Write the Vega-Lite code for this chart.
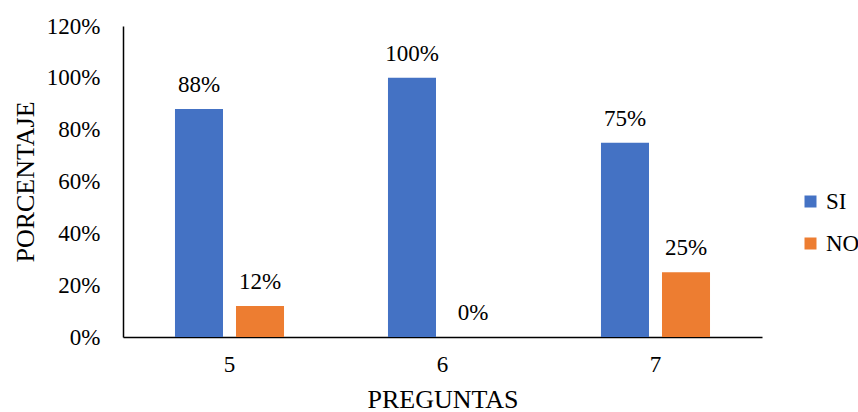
{
  "$schema": "https://vega.github.io/schema/vega-lite/v6.json",
  "width": 639,
  "height": 311,
  "autosize": {"type": "none"},
  "padding": {"left": 123, "top": 26, "right": 96, "bottom": 75},
  "background": "white",
  "config": {
    "view": {"stroke": null},
    "font": "Liberation Serif, serif",
    "text": {"font": "Liberation Serif, serif"},
    "axis": {"labelFont": "Liberation Serif, serif", "titleFont": "Liberation Serif, serif", "labelColor": "#000", "titleColor": "#000", "titleFontWeight": "normal", "grid": false},
    "legend": {"labelFont": "Liberation Serif, serif"}
  },
  "data": {
    "values": [
      {"pregunta": "5", "respuesta": "SI", "valor": 0.88},
      {"pregunta": "5", "respuesta": "NO", "valor": 0.12},
      {"pregunta": "6", "respuesta": "SI", "valor": 1.0},
      {"pregunta": "6", "respuesta": "NO", "valor": 0.0},
      {"pregunta": "7", "respuesta": "SI", "valor": 0.75},
      {"pregunta": "7", "respuesta": "NO", "valor": 0.25}
    ]
  },
  "encoding": {
    "x": {
      "field": "pregunta", "type": "nominal",
      "scale": {"paddingInner": 0, "paddingOuter": 0},
      "axis": {"title": "PREGUNTAS", "labelAngle": 0, "labelFontSize": 23, "titleFontSize": 26, "ticks": false, "tickSize": 0, "labelPadding": 16, "titlePadding": 10, "domainColor": "#000", "domainWidth": 1.5}
    },
    "xOffset": {
      "field": "respuesta", "type": "nominal", "sort": ["SI", "NO"],
      "scale": {"paddingInner": 0.213, "paddingOuter": 0.852}
    },
    "y": {
      "field": "valor", "type": "quantitative",
      "scale": {"domain": [0, 1.2]},
      "axis": {"title": "PORCENTAJE", "format": ".0%", "values": [0, 0.2, 0.4, 0.6, 0.8, 1.0, 1.2], "labelFontSize": 23, "titleFontSize": 26, "ticks": false, "tickSize": 0, "labelPadding": 23, "titlePadding": 8, "domainColor": "#000", "domainWidth": 1.5}
    }
  },
  "layer": [
    {
      "mark": {"type": "bar"},
      "encoding": {
        "color": {
          "field": "respuesta", "type": "nominal", "sort": ["SI", "NO"],
          "scale": {"domain": ["SI", "NO"], "range": ["#4472C4", "#ED7D31"]},
          "legend": {"title": null, "orient": "none", "legendX": 676, "legendY": 164, "symbolType": "square", "symbolSize": 144, "symbolStrokeWidth": 0, "labelFontSize": 23, "labelColor": "#000", "labelOffset": 4, "rowPadding": 18}
        }
      }
    },
    {
      "mark": {"type": "text", "baseline": "alphabetic", "dy": -17, "fontSize": 23, "font": "Liberation Serif, serif", "color": "#000"},
      "encoding": {
        "text": {"field": "valor", "type": "quantitative", "format": ".0%"}
      }
    }
  ]
}
